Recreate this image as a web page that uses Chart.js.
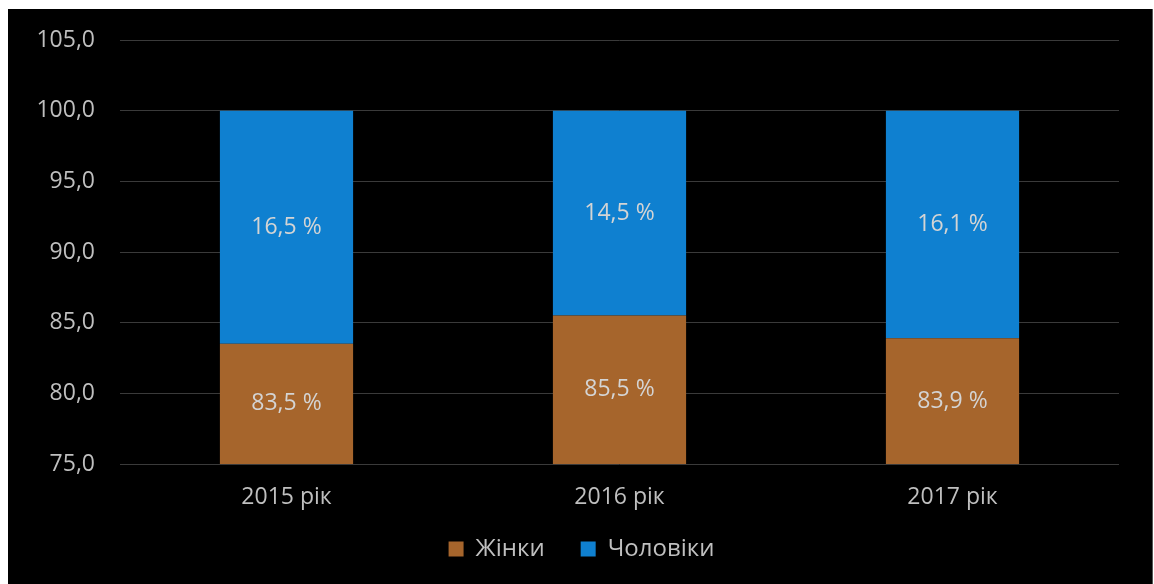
<!DOCTYPE html>
<html lang="uk">
<head>
  <meta charset="UTF-8">
  <title>Жінки / Чоловіки</title>
  <script src="https://cdn.jsdelivr.net/npm/chart.js"></script>
  <style>
    html, body { margin: 0; padding: 0; background: #ffffff; }
    #wrap { position: absolute; left: 8px; top: 9px; width: 1144px; height: 575px; background: #000000; border-right: 1px solid #555; }
  </style>
</head>
<body>
  <div id="wrap"><canvas id="myChart"></canvas></div>

  <script>
    // дані з діаграми
    const years = ['2015 рік', '2016 рік', '2017 рік'];
    const women = [83.5, 85.5, 83.9];
    const men = [16.5, 14.5, 16.1];
    const yTicks = [75, 80, 85, 90, 95, 100, 105];

    const fontFamily = '"Open Sans", "DejaVu Sans", sans-serif';

    // підписи значень у центрі видимої частини стовпця
    const barLabels = {
      id: 'barLabels',
      afterLayout(chart) {
        // щоб підписи осі X не обрізались
        chart.scales.x.bottom += 30;
        // легенда по центру всього полотна
        chart.legend.left += 18;
        chart.legend.right += 18;
      },
      afterDatasetsDraw(chart) {
        const ctx = chart.ctx;
        const area = chart.chartArea;
        ctx.save();
        ctx.fillStyle = '#d4d4d4';
        ctx.font = '23px ' + fontFamily;
        ctx.textAlign = 'center';
        ctx.textBaseline = 'middle';
        chart.data.datasets.forEach((ds, i) => {
          chart.getDatasetMeta(i).data.forEach((bar, j) => {
            const p = bar.getProps(['x', 'y', 'base'], true);
            const top = Math.max(Math.min(p.y, p.base), area.top);
            const bottom = Math.min(Math.max(p.y, p.base), area.bottom);
            const txt = ds.data[j].toFixed(1).replace('.', ',') + ' %';
            ctx.fillText(txt, p.x, (top + bottom) / 2);
          });
        });
        ctx.restore();
      }
    };

    const ctx = document.getElementById('myChart').getContext('2d');
    const myChart = new Chart(ctx, {
      type: 'bar',
      data: {
        labels: years,
        datasets: [{
          label: 'Жінки',
          data: women,
          backgroundColor: '#a6652c',
          categoryPercentage: 1,
          barPercentage: 0.4
        }, {
          label: 'Чоловіки',
          data: men,
          backgroundColor: '#0f80d0',
          categoryPercentage: 1,
          barPercentage: 0.4
        }]
      },
      options: {
        responsive: true,
        maintainAspectRatio: false,
        animation: false,
        layout: { padding: { top: 31, right: 33, bottom: 13, left: 0 } },
        plugins: {
          tooltip: { enabled: false },
          legend: {
            position: 'bottom',
            labels: {
              color: '#bfbfbf',
              font: { family: fontFamily, size: 24 },
              boxWidth: 15,
              boxHeight: 15,
              padding: 36
            }
          }
        },
        scales: {
          x: {
            stacked: true,
            afterFit(scale) { scale.height = 37; },
            grid: { display: false },
            border: { display: false },
            ticks: { color: '#bfbfbf', font: { family: fontFamily, size: 23 }, padding: 12 }
          },
          y: {
            stacked: true,
            min: 75,
            max: 105,
            afterFit(scale) {
              scale.width = 112;
              scale.paddingTop = 0;
              scale.paddingBottom = 0;
            },
            afterBuildTicks(scale) { scale.ticks = yTicks.map(v => ({ value: v })); },
            grid: { color: '#3a3a3a', lineWidth: 1, drawTicks: false },
            border: { display: false },
            ticks: {
              color: '#bfbfbf',
              font: { family: fontFamily, size: 23 },
              padding: 25,
              callback: v => v.toFixed(1).replace('.', ',')
            }
          }
        }
      },
      plugins: [barLabels]
    });
  </script>
</body>
</html>
